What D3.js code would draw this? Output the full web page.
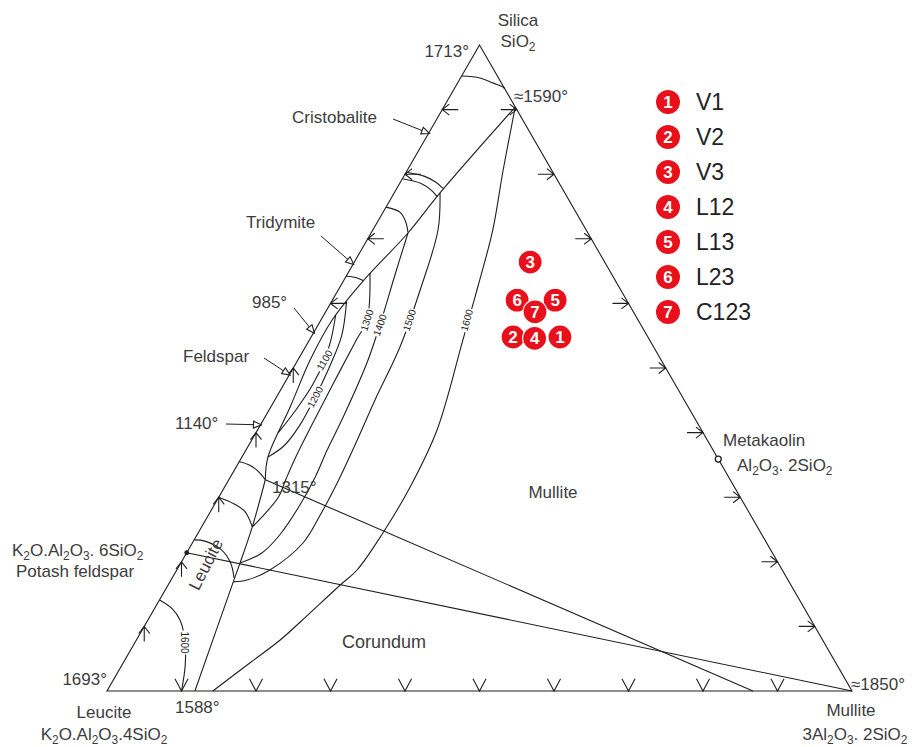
<!DOCTYPE html>
<html><head><meta charset="utf-8">
<script src="https://cdn.jsdelivr.net/npm/d3@7"></script>
<style>
body{margin:0;background:#fff}
text{font-family:"Liberation Sans",Arial,sans-serif;fill:#3c3c3c}
</style>
</head><body>
<svg id="chart" width="914" height="747"></svg>
<script>
// Compositions are [SiO2 %, Mullite %]; Leucite is the remainder.
const samples = ["V1", "V2", "V3", "L12", "L13", "L23", "C123"];
const sampleSiO2 = [54.8, 54.8, 66.4, 54.6, 60.5, 60.5, 58.7];
const sampleMullite = [33.4, 27.1, 23.6, 30.1, 29.9, 24.8, 28.1];

// Boundary curves between primary fields
const silicaMulliteBoundary = [[90.4, 9.6], [77.1, 6.15], [70.9, 4.95], [63.3, 2.6], [57.4, 1.5], [51.2, 1.65], [44.0, 2.6], [36.2, 3.5], [32.7, 4.9]];
const leuciteMulliteBoundary = [[32.7, 4.9], [25.4, 6.8], [19.8, 7.95], [16.9, 8.5], [0, 11.8]];
const leuciteFeldsparBoundary = [[23.4, 0], [23.2, 1.55], [21.8, 4.5], [19.8, 6.7], [17.5, 8.3]];
const cristobaliteIsotherm = [[95.2, 0], [94.9, 2.6], [94.1, 4.8], [93.5, 6.4], [93.2, 6.8]];
const inversionA = [[80.3, 0], [79.7, 2.7], [78.8, 4.7], [77.8, 6.2]];
const inversionB = [[79.3, 0], [78.6, 2.8], [77.5, 4.8], [76.5, 6.1]];
const silicaArc = [[74.9, 0], [74.1, 2.3], [72.6, 3.8], [71.0, 4.9]];
const silicaArc2 = [[64.2, 0], [64.0, 1.4], [63.5, 2.7]];
const feldsparArc = [[35.5, 0], [35.0, 1.6], [34.0, 3.3], [32.7, 4.9]];
const leuciteArcA = [[30.0, 0], [29.0, 2.5], [27.8, 4.6], [25.4, 6.8]];

// Joins (straight lines)
const joinFrom1315 = [[32.7, 4.9], [0, 86.7]];
const joinFeldsparMullite = [[21.4, 0], [0, 100]];

// Isotherms in the mullite and leucite fields
const iso1600 = [[90.4, 9.6], [80.65, 12.85], [71.36, 16.1], [62.54, 18.5], [54.33, 20.6], [40.4, 24.1], [31.58, 24.9], [24.46, 24.8], [18.73, 24.2], [16.41, 23.1], [10.68, 20.6], [7.89, 19.3], [4.33, 17.0], [0, 14.2]];
const iso1500 = [[77.1, 6.15], [71.36, 8.75], [62.07, 11.0], [53.25, 12.7], [45.05, 13.45], [38.08, 14.25], [32.2, 14.8], [27.24, 15.0], [22.91, 14.85], [18.73, 12.5], [17.18, 10.2], [16.9, 8.5]];
const iso1400 = [[70.9, 4.95], [64.4, 6.45], [56.66, 8.3], [50.77, 9.5], [42.41, 10.5], [37.3, 10.9], [32.97, 11.4], [28.79, 11.5], [24.15, 11.1], [21.36, 10.1], [19.8, 7.95]];
const iso1300 = [[64.7, 2.95], [57.4, 6.2], [54.3, 6.3], [47.06, 6.6], [41.18, 6.9], [36.53, 7.2], [32.97, 7.6], [30.03, 8.0], [27.55, 7.5], [25.4, 6.8]];
const iso1200 = [[60.3, 2.0], [55.0, 4.0], [50.0, 4.8], [45.5, 5.2], [41.0, 5.3], [38.0, 4.8], [36.2, 3.5]];
const iso1100 = [[58.2, 1.6], [54.3, 2.9], [51.2, 3.6], [47.4, 3.9], [43.5, 3.6], [40.0, 3.0]];
const iso1600Leucite = [[14.1, 0], [12.8, 2.3], [11.0, 4.3], [7.9, 6.5], [4.0, 8.5], [0, 10.0]];

const isoLabels = ["1300", "1400", "1500", "1600", "1100", "1200", "1600"];
const isoLabelAt = [[57.4, 6.2], [56.66, 8.3], [57.4, 11.9], [57.4, 19.6], [51.2, 3.6], [45.5, 5.2], [7.5, 6.6]];
const isoLabelAngle = [-72, -70, -72, -75, -60, -62, 90];

// Binary-edge direction arrows
const baseArrowMullite = [10, 20, 30, 40, 50, 60, 70, 80, 90];
const rightArrowSiO2 = [10, 20, 30, 40, 50, 60, 70, 80, 90];
const leftArrowUpSiO2 = [10, 20, 30, 40, 50];
const leftArrowDownSiO2 = [60, 70, 80, 90];

// Named points
const metakaolin = [35.9, 64.1];
const potashFeldspar = [21.4, 0];

const svg = d3.select("#chart");
const sx = d3.scaleLinear().domain([0, 100]).range([107, 852]);
const sy = d3.scaleLinear().domain([0, 100]).range([691, 45]);
const px = d => sx(d[1] + d[0] / 2);
const py = d => sy(d[0]);

const ink = "#1e1e1e";
const smooth = d3.line().x(px).y(py).curve(d3.curveCatmullRom.alpha(0.5));
const straight = d3.line().x(px).y(py);

const g = svg.append("g").attr("fill", "none").attr("stroke", ink).attr("stroke-width", 1.1);

// Outer triangle
g.append("path").attr("d", straight([[100, 0], [0, 0], [0, 100]]) + "Z");

[silicaMulliteBoundary, leuciteMulliteBoundary, leuciteFeldsparBoundary, cristobaliteIsotherm,
 inversionA, inversionB, silicaArc, silicaArc2, feldsparArc, leuciteArcA,
 iso1600, iso1500, iso1400, iso1300, iso1200, iso1100, iso1600Leucite]
  .forEach(c => g.append("path").attr("d", smooth(c)));
[joinFrom1315, joinFeldsparMullite].forEach(c => g.append("path").attr("d", straight(c)));

// Isotherm labels on a white patch so the curve is broken under them
isoLabels.forEach((t, i) => {
  const p = isoLabelAt[i];
  const lg = svg.append("g").attr("transform", `translate(${px(p)},${py(p)}) rotate(${isoLabelAngle[i]})`);
  lg.append("rect").attr("x", -12).attr("y", -4.5).attr("width", 24).attr("height", 9).attr("fill", "#fff");
  lg.append("text").attr("text-anchor", "middle").attr("dy", 3.5).attr("font-size", 10).style("fill", "#222").text(t);
});

// Edge arrows: tip on the edge, a short stem behind it and two barbs
function arrow(x, y, dirDeg, stem, barb, spread, withStem) {
  const r = Math.PI / 180;
  const back = dirDeg + 180;
  const b1 = (back + spread) * r, b2 = (back - spread) * r;
  let d = `M${x + barb * Math.cos(b1)},${y - barb * Math.sin(b1)}L${x},${y}L${x + barb * Math.cos(b2)},${y - barb * Math.sin(b2)}`;
  if (withStem) d += `M${x},${y}L${x + stem * Math.cos(back * r)},${y - stem * Math.sin(back * r)}`;
  return d;
}
baseArrowMullite.forEach(m => {
  const d = [0, m];
  g.append("path").attr("d", arrow(px(d), py(d), -90, 0, 14, 28, false));
});
rightArrowSiO2.forEach(s => {
  const d = [s, 100 - s];
  g.append("path").attr("d", arrow(px(d), py(d), 0, 16, 9, 38, true));
});
leftArrowUpSiO2.forEach(s => {
  const d = [s, 0];
  g.append("path").attr("d", arrow(px(d), py(d), 90, 15, 9, 38, true));
});
leftArrowDownSiO2.forEach(s => {
  const d = [s, 0];
  g.append("path").attr("d", arrow(px(d), py(d), 180, 16, 9, 38, true));
});

// Small points on the edges
svg.append("circle").attr("cx", px(metakaolin)).attr("cy", py(metakaolin)).attr("r", 3)
  .attr("fill", "#fff").attr("stroke", ink).attr("stroke-width", 1.3);
svg.append("circle").attr("cx", px(potashFeldspar)).attr("cy", py(potashFeldspar)).attr("r", 2.4).attr("fill", ink);

// Leaders with open arrowheads
svg.append("defs").append("marker").attr("id", "open").attr("viewBox", "0 0 10 10")
  .attr("refX", 9).attr("refY", 5).attr("markerWidth", 10).attr("markerHeight", 10).attr("orient", "auto")
  .attr("markerUnits", "userSpaceOnUse")
  .append("path").attr("d", "M1,1.5L9,5L1,8.5Z").attr("fill", "#fff").attr("stroke", ink).attr("stroke-width", 1.1);
const leaders = [
  {text: "Cristobalite", s: 86.3, tx: 292, ty: 123, from: [393, 119]},
  {text: "Tridymite", s: 66.0, tx: 246, ty: 228, from: [321, 236]},
  {text: "985°", s: 55.4, tx: 252, ty: 308, from: [294, 308]},
  {text: "Feldspar", s: 48.9, tx: 183, ty: 362, from: [264, 358]},
  {text: "1140°", s: 41.2, tx: 175, ty: 429, from: [226, 424]}
];
leaders.forEach(l => {
  const d = [l.s, 0];
  const x = px(d) + 1, y = py(d);
  svg.append("path").attr("d", `M${l.from[0]},${l.from[1]}L${x},${y}`)
    .attr("fill", "none").attr("stroke", ink).attr("stroke-width", 1).attr("marker-end", "url(#open)");
  svg.append("text").attr("x", l.tx).attr("y", l.ty).attr("font-size", 17).text(l.text);
});

// Text labels
function sub(sel, parts) {
  parts.forEach(p => {
    const ts = sel.append("tspan").text(p[0]);
    if (p[1]) ts.attr("font-size", "70%").attr("dy", 4);
    else if (p[2]) ts.attr("dy", -4);
  });
}
const T = (x, y, s, size, anchor) => svg.append("text").attr("x", x).attr("y", y).attr("font-size", size || 17).attr("text-anchor", anchor || "start").text(s);
T(518, 26, "Silica", 17, "middle");
const sio2 = svg.append("text").attr("x", 518).attr("y", 47).attr("font-size", 17).attr("text-anchor", "middle");
sub(sio2, [["SiO"], ["2", 1]]);
T(469, 57, "1713°", 17, "end");
T(514, 102, "≈1590°", 17);
T(272, 493, "1315°", 17);
T(107, 685, "1693°", 17, "end");
T(175, 713, "1588°", 17);
T(851, 690, "≈1850°", 17);
T(104, 718, "Leucite", 17, "middle");
const kl = svg.append("text").attr("x", 104).attr("y", 740).attr("font-size", 17).attr("text-anchor", "middle");
sub(kl, [["K"], ["2", 1], ["O.Al", 0, 1], ["2", 1], ["O", 0, 1], ["3", 1], [".4SiO", 0, 1], ["2", 1]]);
const kf = svg.append("text").attr("x", 12).attr("y", 556).attr("font-size", 17);
sub(kf, [["K"], ["2", 1], ["O.Al", 0, 1], ["2", 1], ["O", 0, 1], ["3", 1], [". 6SiO", 0, 1], ["2", 1]]);
T(16, 577, "Potash feldspar", 17);
T(851, 716, "Mullite", 17, "middle");
const ml = svg.append("text").attr("x", 855).attr("y", 740).attr("font-size", 17).attr("text-anchor", "middle");
sub(ml, [["3Al"], ["2", 1], ["O", 0, 1], ["3", 1], [". 2SiO", 0, 1], ["2", 1]]);
T(723, 446, "Metakaolin", 17);
const mk = svg.append("text").attr("x", 737).attr("y", 471).attr("font-size", 17);
sub(mk, [["Al"], ["2", 1], ["O", 0, 1], ["3", 1], [". 2SiO", 0, 1], ["2", 1]]);
T(553, 498, "Mullite", 17, "middle");
T(384, 648, "Corundum", 18, "middle");
svg.append("text").attr("transform", "translate(211,567) rotate(-63)").attr("font-size", 17)
  .attr("text-anchor", "middle").text("Leucite");

// Sample points (C123 and L12 drawn over their neighbours)
const pts = svg.append("g");
const order = [2, 5, 4, 1, 0, 6, 3];
order.forEach(i => {
  const d = [sampleSiO2[i], sampleMullite[i]];
  pts.append("circle").attr("cx", px(d)).attr("cy", py(d)).attr("r", 12)
    .attr("fill", "#e8101a").attr("stroke", "#fff").attr("stroke-width", 1.2);
  pts.append("text").attr("x", px(d)).attr("y", py(d) + 6).attr("text-anchor", "middle")
    .attr("font-size", 17).attr("font-weight", "bold").style("fill", "#fff").text(i + 1);
});

// Legend
const lg = svg.append("g");
samples.forEach((s, i) => {
  const y = 102 + i * 35;
  lg.append("circle").attr("cx", 668).attr("cy", y).attr("r", 12).attr("fill", "#e8101a");
  lg.append("text").attr("x", 668).attr("y", y + 6).attr("text-anchor", "middle")
    .attr("font-size", 17).attr("font-weight", "bold").style("fill", "#fff").text(i + 1);
  lg.append("text").attr("x", 696).attr("y", y + 8).attr("font-size", 23).style("fill", "#222").text(s);
});
</script>
</body></html>
